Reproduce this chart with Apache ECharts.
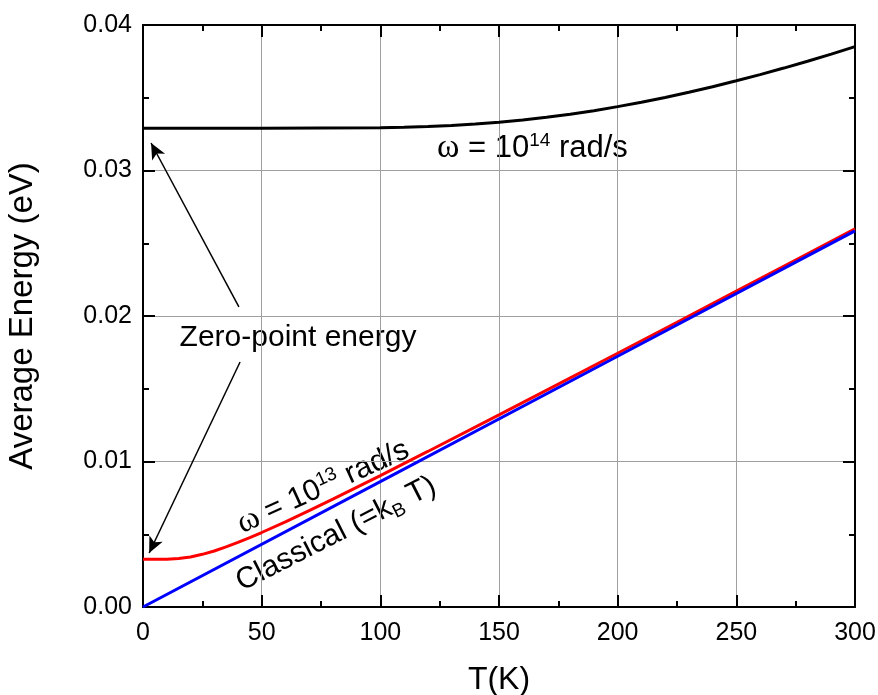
<!DOCTYPE html>
<html>
<head>
<meta charset="utf-8">
<script src="https://cdn.jsdelivr.net/npm/echarts@6/dist/echarts.min.js"></script>
<style>
html,body{margin:0;padding:0;background:#fff;}
#chart{width:878px;height:695px;}
</style>
</head>
<body>
<div id="chart"></div>
<script>
// ---- data ----
var xTicks = [0, 50, 100, 150, 200, 250, 300];
var yTicks = ['0.00', '0.01', '0.02', '0.03', '0.04'];

// omega = 1e14 rad/s
var T14 = [0, 50, 100, 110, 120, 130, 140, 150, 160, 170, 180, 190, 200, 210, 220, 230, 240, 250, 260, 270, 280, 290, 300];
var E14 = [0.03291, 0.03291, 0.03294, 0.03297, 0.03302, 0.03310, 0.03319, 0.03332, 0.03347, 0.03366, 0.03387, 0.03411, 0.03439, 0.03469, 0.03502, 0.03538, 0.03576, 0.03617, 0.03659, 0.03704, 0.03751, 0.03800, 0.03851];

// omega = 1e13 rad/s
var T13 = [0, 5, 10, 15, 20, 25, 30, 35, 40, 45, 50, 60, 70, 80, 90, 100, 120, 150, 175, 200, 225, 250, 275, 300];
var E13 = [0.00329, 0.00329, 0.00329, 0.00333, 0.00344, 0.00362, 0.00385, 0.00413, 0.00444, 0.00477, 0.00512, 0.00585, 0.00662, 0.00741, 0.00822, 0.00903, 0.01069, 0.01321, 0.01532, 0.01744, 0.01957, 0.02171, 0.02385, 0.02599];

// classical kB*T
var Tcl = [0, 100, 200, 300];
var Ecl = [0, 0.008617, 0.017234, 0.025852];

// zero-point energy arrows (data coordinates: [T, E] tail -> head)
var arrowTop = [[40.4, 0.02062], [3.4, 0.03189]];
var arrowBottom = [[40.9, 0.01684], [2.6, 0.00371]];

function zip(a, b) { return a.map(function (v, i) { return [v, b[i]]; }); }

var FONT = 'Liberation Sans, Arial, sans-serif';
var chart = echarts.init(document.getElementById('chart'));

function axisCommon(extra) {
  var base = {
    type: 'value',
    axisLine: { show: true, onZero: false, lineStyle: { color: '#000', width: 2 } },
    axisTick: { show: true, inside: true, length: 12, lineStyle: { color: '#000', width: 2 } },
    minorTick: { show: true, splitNumber: 2, length: 6, lineStyle: { color: '#000', width: 2 } },
    splitLine: { show: false },
    axisLabel: { show: false }
  };
  for (var k in extra) base[k] = extra[k];
  return base;
}

var option = {
  backgroundColor: '#fff',
  animation: false,
  grid: { left: 143, right: 23, top: 25, bottom: 88, containLabel: false, outerBoundsMode: 'none' },
  xAxis: [
    axisCommon({
      position: 'bottom', min: 0, max: 300, interval: 50,
      splitLine: { show: true, lineStyle: { color: '#a0a0a0', width: 1 } },
      axisLabel: { show: true, fontSize: 25, color: '#000', fontFamily: FONT, margin: 14,
        formatter: function (v) { return xTicks.indexOf(v) >= 0 ? String(v) : ''; } },
      name: 'T(K)', nameLocation: 'middle', nameGap: 57,
      nameTextStyle: { fontSize: 32, color: '#000', fontFamily: FONT }
    }),
    axisCommon({ position: 'top', min: 0, max: 300, interval: 50 })
  ],
  yAxis: [
    axisCommon({
      position: 'left', min: 0, max: 0.04, interval: 0.01,
      splitLine: { show: true, lineStyle: { color: '#a0a0a0', width: 1 } },
      axisLabel: { show: true, fontSize: 25, color: '#000', fontFamily: FONT, margin: 11,
        formatter: function (v) { return yTicks[Math.round(v * 100)]; } },
      name: 'Average Energy (eV)', nameLocation: 'middle', nameGap: 104, nameRotate: 90,
      nameTextStyle: { fontSize: 33, color: '#000', fontFamily: FONT }
    }),
    axisCommon({ position: 'right', min: 0, max: 0.04, interval: 0.01 })
  ],
  series: [
    {
      name: 'w14', type: 'line', data: zip(T14, E14), showSymbol: false, smooth: false,
      lineStyle: { color: '#000', width: 3 }, z: 3,
      markLine: {
        silent: true, animation: false, symbol: ['none', 'arrow'], symbolSize: [11, 16],
        label: { show: false },
        lineStyle: { color: '#000', width: 1.5, type: 'solid' },
        data: [
          [{ coord: arrowTop[0] }, { coord: arrowTop[1] }],
          [{ coord: arrowBottom[0] }, { coord: arrowBottom[1] }]
        ]
      }
    },
    {
      name: 'w13', type: 'line', data: zip(T13, E13), showSymbol: false, smooth: false,
      lineStyle: { color: '#ff0000', width: 3 }, z: 3
    },
    {
      name: 'classical', type: 'line', data: zip(Tcl, Ecl), showSymbol: false,
      lineStyle: { color: '#0000ff', width: 3 }, z: 4
    }
  ],
  graphic: [
    {
      type: 'text', x: 437, y: 148,
      style: {
        text: '{w|ω} = 10{sup|14} rad/s', fill: '#000', fontSize: 31, fontFamily: FONT,
        align: 'left', verticalAlign: 'middle',
        rich: {
          w: { fontFamily: 'Liberation Serif, serif', fontSize: 34, fill: '#000' },
          sup: { fontSize: 19, fontFamily: FONT, fill: '#000', verticalAlign: 'bottom', padding: [0, 0, 15, 0] }
        }
      }
    },
    {
      type: 'text', x: 298, y: 338,
      style: { text: 'Zero-point energy', fill: '#000', fontSize: 30, fontFamily: FONT, align: 'center', verticalAlign: 'middle' }
    },
    {
      type: 'text', x: 323, y: 487, rotation: 24.5 * Math.PI / 180,
      style: {
        text: '{w|ω} = 10{sup|13} rad/s', fill: '#000', fontSize: 30, fontFamily: FONT,
        align: 'center', verticalAlign: 'middle',
        rich: {
          w: { fontFamily: 'Liberation Serif, serif', fontSize: 33, fill: '#000' },
          sup: { fontSize: 19, fontFamily: FONT, fill: '#000', verticalAlign: 'bottom', padding: [0, 0, 15, 0] }
        }
      }
    },
    {
      type: 'text', x: 336, y: 534, rotation: 27 * Math.PI / 180,
      style: {
        text: 'Classical (=k{sub|B} T)', fill: '#000', fontSize: 30, fontFamily: FONT,
        align: 'center', verticalAlign: 'middle',
        rich: {
          sub: { fontSize: 19, fontFamily: FONT, fill: '#000', verticalAlign: 'top', padding: [16, 0, 0, 0] }
        }
      }
    }
  ]
};
chart.setOption(option);
</script>
</body>
</html>
